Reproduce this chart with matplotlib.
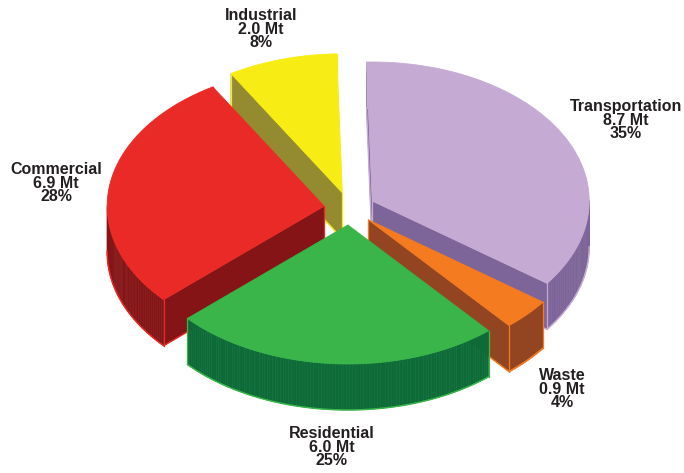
import matplotlib
matplotlib.use('Agg')
import matplotlib.pyplot as plt
import numpy as np

names = ['Transportation', 'Waste', 'Residential', 'Commercial', 'Industrial']
megatonnes = [8.7, 0.9, 6.0, 6.9, 2.0]
percents = [35, 4, 25, 28, 8]

top_colors = ['#C5ABD3', '#F47B20', '#39B54A', '#EA2A26', '#F7EC13']
side_colors = ['#7D6599', '#934522', '#0D6B37', '#841415', '#948B30']

# label centres in pixels
label_x = [626, 562, 332, 56, 261]
label_y = [120, 389, 447, 183, 29]

# back to front
draw_order = [0, 4, 3, 1, 2]

CX, CY = 349.5, 208.6
RX, RY = 217, 139
DEPTH = 46
EXPLODE = 0.118
START = -1.5


def wedge_outline(t0, t1):
	# t is clockwise from 12 o'clock, y axis points down
	mid = np.radians((t0 + t1) / 2)
	ax_ = CX + EXPLODE * RX * np.sin(mid)
	ay_ = CY - EXPLODE * RY * np.cos(mid)
	t = np.radians(np.linspace(t0, t1, 120))
	xs = ax_ + RX * np.sin(t)
	ys = ay_ - RY * np.cos(t)
	return np.r_[ax_, xs], np.r_[ay_, ys]


fig = plt.figure(figsize=(6.84, 4.73), dpi=100)
ax = fig.add_axes([0, 0, 1, 1])
ax.set_xlim(0, 684)
ax.set_ylim(473, 0)
ax.axis('off')

angles = START + np.cumsum([0] + megatonnes) / sum(megatonnes) * 360

for z, i in enumerate(draw_order):
	xs, ys = wedge_outline(angles[i], angles[i + 1])
	top = top_colors[i]
	side = side_colors[i]
	x2 = np.r_[xs, xs[0]]
	y2 = np.r_[ys, ys[0]]
	zbase = z * 10
	for k in range(len(x2) - 1):
		# only faces turned towards the viewer
		if x2[k + 1] < x2[k]:
			ax.fill([x2[k], x2[k + 1], x2[k + 1], x2[k]],
				[y2[k], y2[k + 1], y2[k + 1] + DEPTH, y2[k] + DEPTH],
				facecolor=side, edgecolor=side, lw=0.4, zorder=zbase)
			ax.plot([x2[k], x2[k + 1]], [y2[k] + DEPTH, y2[k + 1] + DEPTH],
				color=top, lw=1.0, zorder=zbase + 1, solid_capstyle='round')
	# vertical corner lines
	for k in [0, 1, len(xs) - 1]:
		ax.plot([xs[k], xs[k]], [ys[k], ys[k] + DEPTH], color=top, lw=0.9, zorder=zbase + 1)
	ax.fill(xs, ys, facecolor=top, edgecolor=top, lw=0.6, zorder=zbase + 2)

for i in range(len(names)):
	label = f'{names[i]}\n{megatonnes[i]:.1f} Mt\n{percents[i]}%'
	ax.text(label_x[i], label_y[i], label, ha='center', va='center', multialignment='center',
		family='Liberation Sans', fontweight='bold', fontsize=11.5, linespacing=0.9,
		color='#231F20', zorder=100)

fig.savefig('out.png', dpi=100, facecolor='white')
